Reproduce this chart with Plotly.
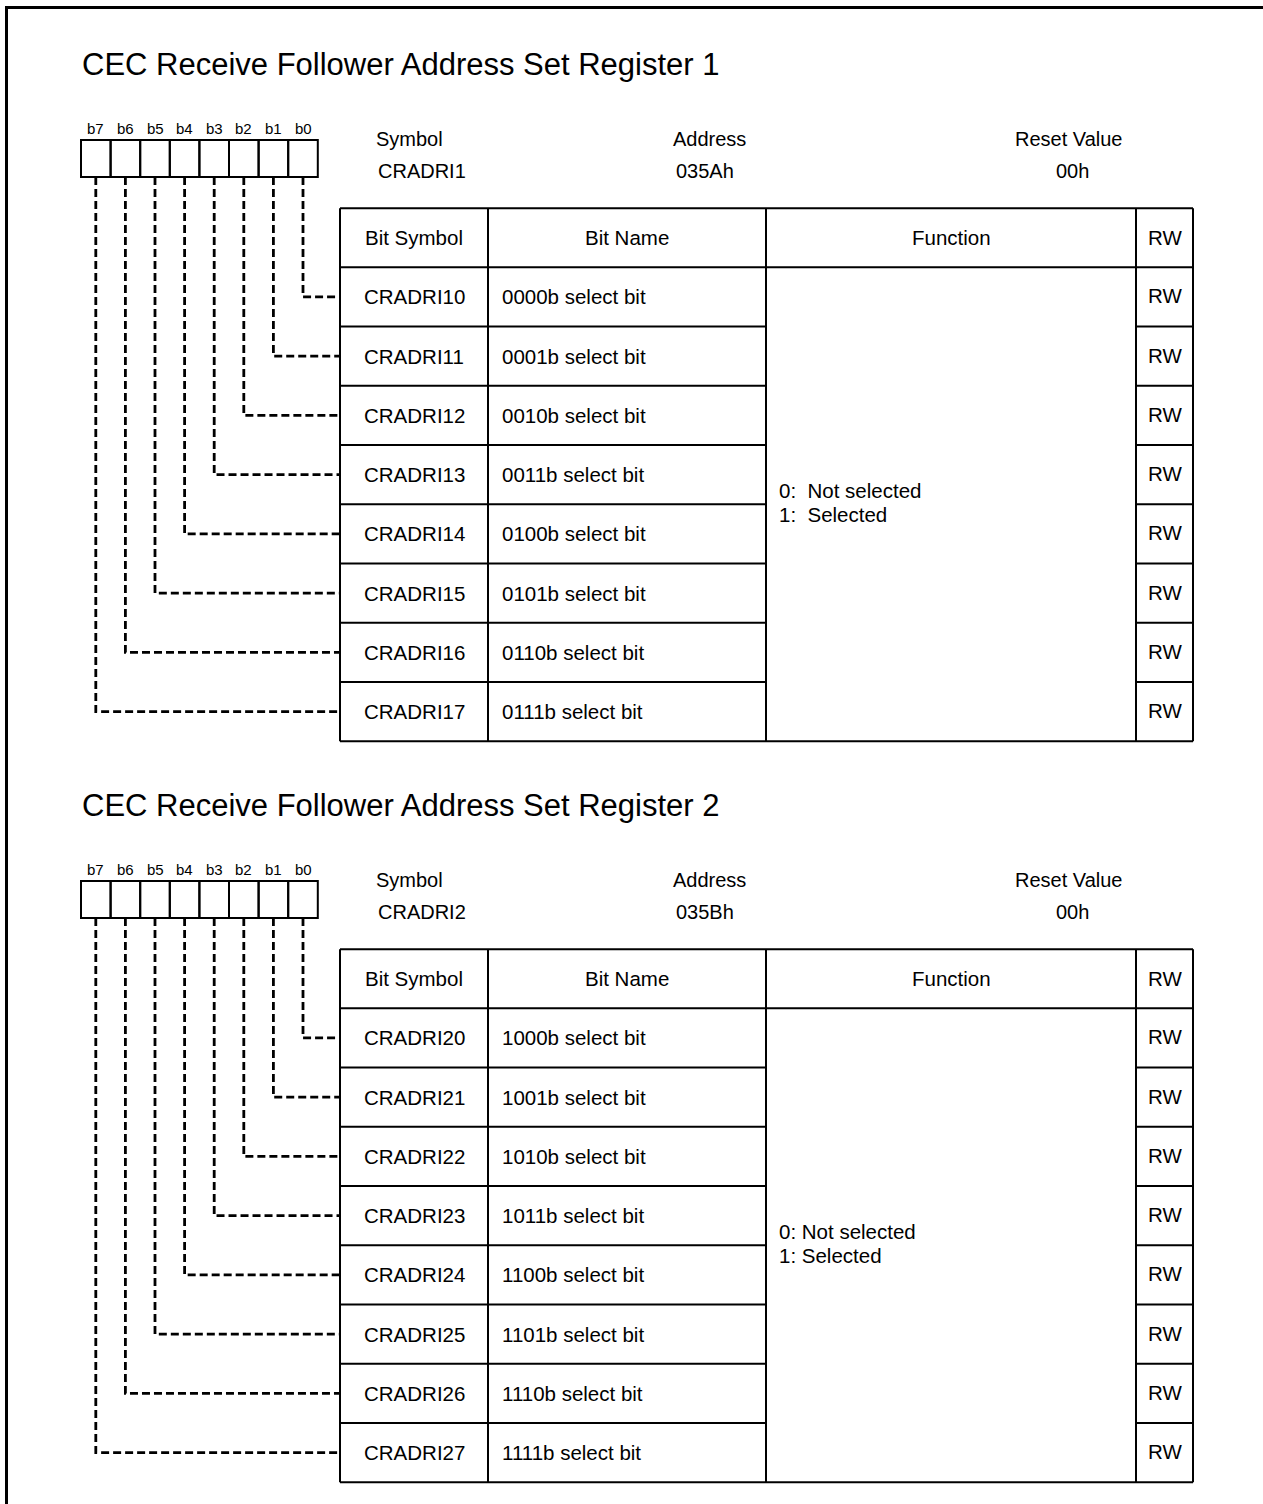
import plotly.graph_objects as go

# ---------------- data ----------------
titles = ["CEC Receive Follower Address Set Register 1",
          "CEC Receive Follower Address Set Register 2"]
reg_symbols = ["CRADRI1", "CRADRI2"]
reg_addresses = ["035Ah", "035Bh"]
reset_values = ["00h", "00h"]
info_labels = ["Symbol", "Address", "Reset Value"]
bit_labels = ["b7", "b6", "b5", "b4", "b3", "b2", "b1", "b0"]
header_cols = ["Bit Symbol", "Bit Name", "Function", "RW"]

bit_symbols_1 = ["CRADRI10", "CRADRI11", "CRADRI12", "CRADRI13",
                 "CRADRI14", "CRADRI15", "CRADRI16", "CRADRI17"]
bit_names_1 = ["0000b select bit", "0001b select bit", "0010b select bit", "0011b select bit",
               "0100b select bit", "0101b select bit", "0110b select bit", "0111b select bit"]
rw_1 = ["RW", "RW", "RW", "RW", "RW", "RW", "RW", "RW"]
function_1 = ["0:  Not selected", "1:  Selected"]

bit_symbols_2 = ["CRADRI20", "CRADRI21", "CRADRI22", "CRADRI23",
                 "CRADRI24", "CRADRI25", "CRADRI26", "CRADRI27"]
bit_names_2 = ["1000b select bit", "1001b select bit", "1010b select bit", "1011b select bit",
               "1100b select bit", "1101b select bit", "1110b select bit", "1111b select bit"]
rw_2 = ["RW", "RW", "RW", "RW", "RW", "RW", "RW", "RW"]
function_2 = ["0: Not selected", "1: Selected"]

sections = [
    (titles[0], reg_symbols[0], reg_addresses[0], reset_values[0], bit_symbols_1, bit_names_1, rw_1, function_1),
    (titles[1], reg_symbols[1], reg_addresses[1], reset_values[1], bit_symbols_2, bit_names_2, rw_2, function_2),
]

# ---------------- layout constants ----------------
W, H = 1263, 1504
FONT = "Liberation Sans, Arial, sans-serif"
SEC_OFFSET = [0, 741]
TITLE_X, TITLE_Y = 80, 64.5
BITLABEL_Y = 128.5
BOX_X0, BOX_W, BOX_TOP, BOX_BOT = 81, 29.6, 140, 177
INFO_X = [409, 709, 1068]
INFO_X2 = [422, 705, 1072]
INFO_Y1, INFO_Y2 = 139, 171
COLS = [340, 488, 766, 1136, 1193]
TABLE_TOP, HEADER_H, ROW_H = 208.3, 59, 59.25
NAME_X = 500
FUNC_X, FUNC_Y1, FUNC_DY = 777, 490.3, 24.4
TXT = 20.5

fig = go.Figure()
shapes = []
annotations = []


def line(x0, y0, x1, y1, w=2, color="black"):
    shapes.append(dict(type="line", xref="x", yref="y", x0=x0, y0=y0, x1=x1, y1=y1,
                       line=dict(color=color, width=w)))


def text(x, y, s, size=TXT, xanchor="center"):
    annotations.append(dict(x=x, y=y, xref="x", yref="y", text=s, showarrow=False,
                            xanchor=xanchor, yanchor="middle",
                            font=dict(family=FONT, size=size, color="black")))


# frame
line(5, 7.5, W, 7.5, w=3)
line(6.5, 6, 6.5, H, w=3)

for si, (title, sym, addr, rst, bsyms, bnames, rws, funcs) in enumerate(sections):
    o = SEC_OFFSET[si]
    text(TITLE_X, TITLE_Y + o, title, size=31, xanchor="left")

    # bit boxes
    for j, lab in enumerate(bit_labels):
        bx = BOX_X0 + j * BOX_W
        shapes.append(dict(type="rect", xref="x", yref="y", x0=bx, x1=bx + BOX_W,
                           y0=BOX_TOP + o, y1=BOX_BOT + o,
                           line=dict(color="black", width=2)))
        text(bx + BOX_W / 2, BITLABEL_Y + o, lab, size=15)

    # register info
    for k, lab in enumerate(info_labels):
        text(INFO_X[k], INFO_Y1 + o, lab, size=20)
    for k, val in enumerate([sym, addr, rst]):
        text(INFO_X2[k], INFO_Y2 + o, val, size=20)

    top = TABLE_TOP + o
    hb = top + HEADER_H
    bottom = hb + len(bsyms) * ROW_H

    # table lines
    line(COLS[0], top, COLS[-1], top)
    line(COLS[0], hb, COLS[-1], hb)
    line(COLS[0], bottom, COLS[-1], bottom)
    for cx in COLS:
        line(cx, top, cx, bottom)
    for i in range(1, len(bsyms)):
        yy = hb + i * ROW_H
        line(COLS[0], yy, COLS[2], yy)
        line(COLS[3], yy, COLS[4], yy)

    # header texts
    for c, h in enumerate(header_cols):
        text((COLS[c] + COLS[c + 1]) / 2, (top + hb) / 2, h)

    # rows
    for i, (bs, bn, rw) in enumerate(zip(bsyms, bnames, rws)):
        yc = hb + (i + 0.5) * ROW_H
        text((COLS[0] + COLS[1]) / 2, yc, bs)
        text(NAME_X, yc, bn, xanchor="left")
        text((COLS[3] + COLS[4]) / 2, yc - 1, rw)
        # dashed connector from bit box (bit i) to row
        xc = BOX_X0 + (len(bit_labels) - 1 - i + 0.5) * BOX_W
        fig.add_trace(go.Scatter(x=[xc, xc, COLS[0]], y=[BOX_BOT + o, yc, yc],
                                 mode="lines", hoverinfo="skip", showlegend=False,
                                 line=dict(color="black", width=2.8, dash="8px,4px")))

    for k, f in enumerate(funcs):
        text(FUNC_X, FUNC_Y1 + o + k * FUNC_DY, f, xanchor="left")

fig.update_layout(
    width=W, height=H,
    margin=dict(l=0, r=0, t=0, b=0),
    paper_bgcolor="white", plot_bgcolor="white",
    xaxis=dict(range=[0, W], visible=False, fixedrange=True),
    yaxis=dict(range=[H, 0], visible=False, fixedrange=True),
    shapes=shapes, annotations=annotations, showlegend=False,
)

fig.write_html("out.html", config={"displayModeBar": False, "staticPlot": True},
               post_script="document.body.style.margin='0';document.body.style.overflow='hidden';")
